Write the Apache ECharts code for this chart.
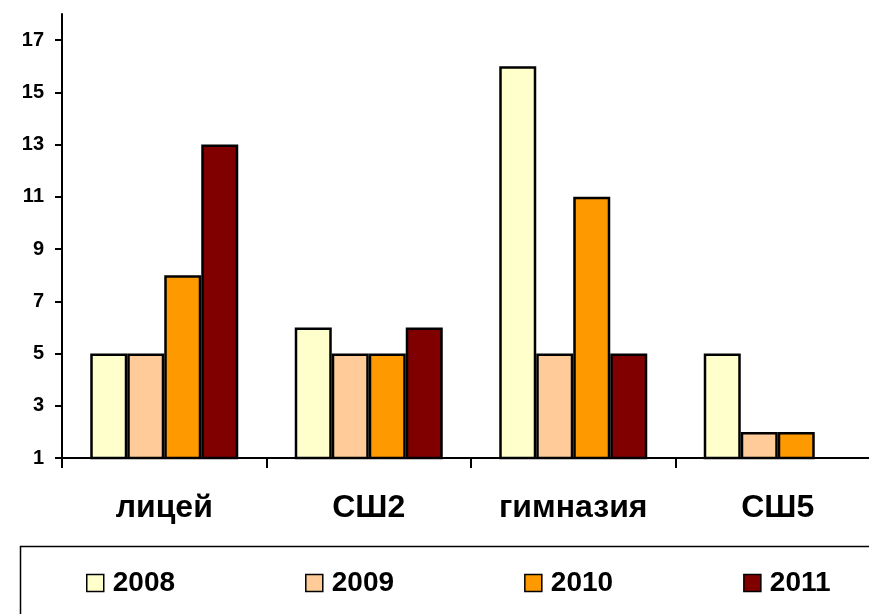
<!DOCTYPE html>
<html>
<head>
<meta charset="utf-8">
<script src="https://cdn.jsdelivr.net/npm/echarts@6/dist/echarts.min.js"></script>
<style>
  html, body { margin: 0; padding: 0; background: #fff; }
  #chart { width: 869px; height: 614px; }
</style>
</head>
<body>
<div id="chart"></div>
<script>
// данные
const schools = ['лицей', 'СШ2', 'гимназия', 'СШ5']
const years = ['2008', '2009', '2010', '2011']
const values2008 = [5, 6, 16, 5]
const values2009 = [5, 5, 5, 2]
const values2010 = [8, 5, 11, 2]
const values2011 = [13, 6, 5, '-']
const yTicks = [1, 3, 5, 7, 9, 11, 13, 15, 17]

const colors = ['#FFFFCC', '#FFCC99', '#FF9900', '#800000']
const seriesValues = [values2008, values2009, values2010, values2011]

const font = '"Liberation Sans", Arial, sans-serif'

const chart = echarts.init(document.getElementById('chart'), null, { renderer: 'canvas' })

chart.setOption({
  animation: false,
  // сетка шире окна: правый край оси уходит за кадр
  grid: { left: 62, width: 818, top: 14, height: 444, outerBoundsMode: 'none', containLabel: false },
  // рамка легенды
  graphic: [{
    type: 'rect',
    left: 18,
    top: 544,
    shape: { width: 900, height: 100 },
    style: { fill: 'none', stroke: '#000', lineWidth: 1.5 }
  }],
  legend: {
    data: years,
    left: 86,
    top: 569,
    orient: 'horizontal',
    padding: 0,
    itemGap: 130,
    itemWidth: 17,
    itemHeight: 17,
    icon: 'rect',
    itemStyle: { borderColor: '#000', borderWidth: 1.5 },
    formatter: '{t|{name}}',
    textStyle: {
      rich: { t: { fontFamily: font, fontSize: 28, fontWeight: 'bold', color: '#000', padding: [0, 0, 0, 4] } }
    }
  },
  xAxis: {
    type: 'category',
    data: schools,
    axisLine: { lineStyle: { color: '#000', width: 2 } },
    axisTick: { show: true, length: 10, lineStyle: { color: '#000', width: 2 } },
    axisLabel: { margin: 34, fontFamily: font, fontSize: 32, fontWeight: 'bold', color: '#000' }
  },
  yAxis: {
    type: 'value',
    min: 1,
    max: 18,
    interval: 1,
    splitLine: { show: false },
    axisLine: { show: true, lineStyle: { color: '#000', width: 2 } },
    axisTick: { show: true, length: 7, customValues: yTicks, lineStyle: { color: '#000', width: 2 } },
    axisLabel: { margin: 18, customValues: yTicks, fontFamily: font, fontSize: 20, fontWeight: 'bold', color: '#000' }
  },
  series: years.map((y, i) => ({
    name: y,
    type: 'bar',
    data: seriesValues[i],
    barWidth: 37,
    barGap: '0%',
    itemStyle: { color: colors[i], borderColor: '#000', borderWidth: 2.5 }
  }))
})
</script>
</body>
</html>
